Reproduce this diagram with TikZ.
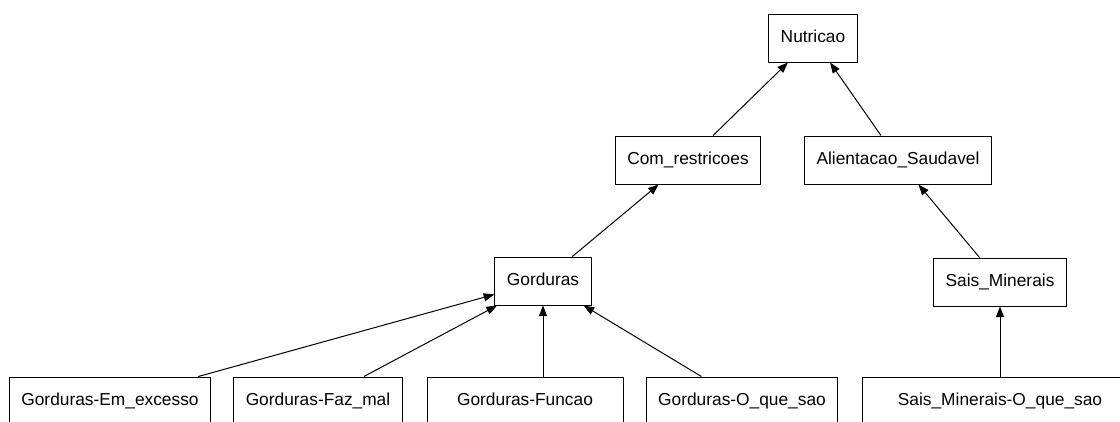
\documentclass[tikz,border=0pt]{standalone}
\usepackage{fontspec}
\setmainfont{Liberation Sans}
\usetikzlibrary{arrows.meta}

\begin{document}
\begin{tikzpicture}[x=0.75pt,y=-0.75pt,line width=0.75pt,
 main node/.style={rectangle,draw,minimum height=36pt,inner xsep=9pt,
   text height=9.5pt,text depth=3pt,font=\fontsize{13}{15}\selectfont}]

  \useasboundingbox (0,0) rectangle (1120,421);
  \clip (0,0) rectangle (1120,421);

  \node[main node] (nut) at (813,38) {Nutricao};
  \node[main node] (com) at (688,160) {Com\_restricoes};
  \node[main node] (ali) at (898,160) {Alientacao\_Saudavel};
  \node[main node] (gor) at (543,281) {Gorduras};
  \node[main node] (sai) at (1000,282) {Sais\_Minerais};
  \node[main node] (emx) at (110,401) {Gorduras-Em\_excesso};
  \node[main node] (faz) at (318,401) {Gorduras-Faz\_mal};
  \node[main node, minimum width=147pt] (fun) at (525,401) {Gorduras-Funcao};
  \node[main node] (oqs) at (742,401) {Gorduras-O\_que\_sao};
  \node[main node, minimum width=207pt] (smo) at (1000,401) {Sais\_Minerais-O\_que\_sao};

  \foreach \s/\t in {com/nut, ali/nut, gor/com, sai/ali, emx/gor, faz/gor, oqs/gor, smo/sai} {
   \path[draw,-{Triangle[length=8pt,width=6pt]}] (\s) edge (\t);}
  \draw[-{Triangle[length=8pt,width=6pt]}] (fun.north -| gor) -- (gor);
\end{tikzpicture}
\end{document}
